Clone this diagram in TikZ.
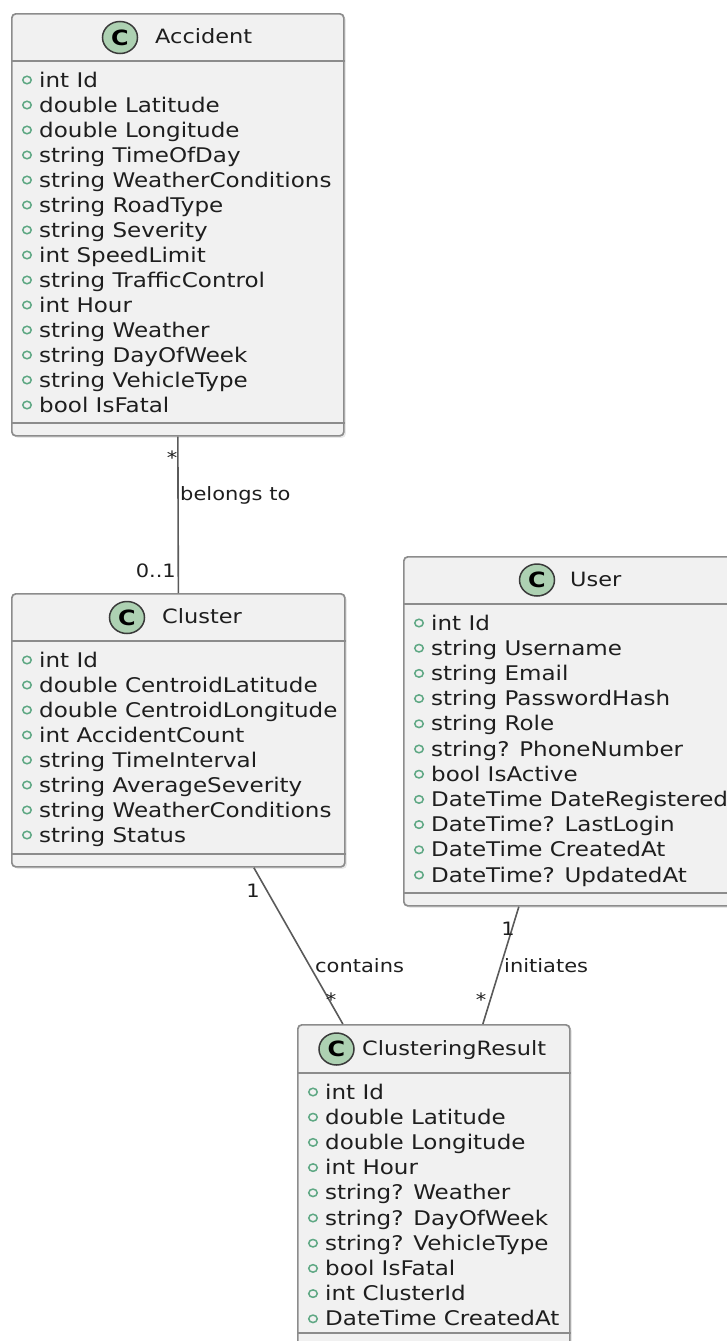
\documentclass[tikz,border=0pt]{standalone}
\usepackage{fontspec}
\setmainfont{DejaVu Sans}[FakeStretch=1.14]
\usetikzlibrary{shadows,shapes.geometric}

\definecolor{boxfill}{HTML}{F1F1F1}
\definecolor{boxline}{HTML}{8C8C8C}
\definecolor{badgefill}{HTML}{ADD1B2}
\definecolor{badgeline}{HTML}{3A3A3A}
\definecolor{pub}{HTML}{5FA884}
\definecolor{txt}{HTML}{1E1E1E}
\definecolor{linkc}{HTML}{5A5A5A}

\tikzset{
  classbox/.style={draw=boxline, fill=boxfill, line width=1.7pt, rounded corners=4pt,
    anchor=north west, inner sep=0pt,
    drop shadow={shadow xshift=2pt, shadow yshift=-2pt, opacity=0.18}},
  sepline/.style={draw=boxline, line width=1.7pt},
  badge/.style={ellipse, draw=badgeline, fill=badgefill, line width=1.5pt,
    minimum width=35pt, minimum height=32pt, inner sep=0pt,
    font=\fontsize{21}{21}\selectfont\bfseries},
  classname/.style={anchor=base west, font=\fontsize{19.7}{24}\selectfont, text=txt, inner sep=0pt},
  attr/.style={anchor=base west, font=\fontsize{20.2}{24}\selectfont, text=txt, inner sep=0pt},
  pubdot/.style={ellipse, draw=pub, line width=1.5pt, minimum width=8.5pt, minimum height=7.5pt,
    inner sep=0pt},
  assoc/.style={draw=linkc, line width=1.6pt},
  mult/.style={font=\fontsize{18.4}{22}\selectfont, text=txt, inner sep=0pt},
}

\begin{document}
\begin{tikzpicture}[x=1pt, y=-1pt]
\useasboundingbox (0,0) rectangle (727,1341);

% ---------- Accident ----------
\node[classbox, minimum width=332pt, minimum height=422pt] (acc) at (11,13) {};
\draw[sepline] (acc.west |- 0,61) -- (acc.east |- 0,61);
\draw[sepline] (acc.west |- 0,423) -- (acc.east |- 0,423);
\node[badge] (acc-c) at (120,37.5) {C};
\node[classname] (acc-t) at (155,43.5) {Accident};
\foreach [count=\i from 0] \t in {int Id, double Latitude, double Longitude, string TimeOfDay,
  string WeatherConditions, string RoadType, string Severity, int SpeedLimit,
  string TrafficControl, int Hour, string Weather, string DayOfWeek, string VehicleType,
  bool IsFatal} {
  \node[pubdot] (acc-d\i) at (27,{80+25*\i}) {};
  \node[attr] (acc-a\i) at (39,{87+25*\i}) {\t};
}

% ---------- Cluster ----------
\node[classbox, minimum width=333pt, minimum height=273pt] (clu) at (11,593) {};
\draw[sepline] (clu.west |- 0,641) -- (clu.east |- 0,641);
\draw[sepline] (clu.west |- 0,854) -- (clu.east |- 0,854);
\node[badge] (clu-c) at (127,617.5) {C};
\node[classname] (clu-t) at (162,623.5) {Cluster};
\foreach [count=\i from 0] \t in {int Id, double CentroidLatitude, double CentroidLongitude,
  int AccidentCount, string TimeInterval, string AverageSeverity, string WeatherConditions,
  string Status} {
  \node[pubdot] (clu-d\i) at (27,{660+25*\i}) {};
  \node[attr] (clu-a\i) at (39,{667+25*\i}) {\t};
}

% ---------- User ----------
\node[classbox, minimum width=340pt, minimum height=349pt] (usr) at (403,556) {};
\draw[sepline] (usr.west |- 0,604) -- (usr.east |- 0,604);
\draw[sepline] (usr.west |- 0,893) -- (usr.east |- 0,893);
\node[badge] (usr-c) at (537,580) {C};
\node[classname] (usr-t) at (570,586) {User};
\foreach [count=\i from 0] \t in {int Id, string Username, string Email, string PasswordHash,
  string Role, string? PhoneNumber, bool IsActive, DateTime DateRegistered,
  DateTime? LastLogin, DateTime CreatedAt, DateTime? UpdatedAt} {
  \node[pubdot] (usr-d\i) at (419,{623+25.2*\i}) {};
  \node[attr] (usr-a\i) at (431,{630+25.2*\i}) {\t};
}

% ---------- ClusteringResult ----------
\node[classbox, minimum width=272pt, minimum height=322pt] (cr) at (297,1024) {};
\draw[sepline] (cr.west |- 0,1073) -- (cr.east |- 0,1073);
\draw[sepline] (cr.west |- 0,1333) -- (cr.east |- 0,1333);
\node[badge] (cr-c) at (336.5,1049) {C};
\node[classname] (cr-t) at (362,1055) {ClusteringResult};
\foreach [count=\i from 0] \t in {int Id, double Latitude, double Longitude, int Hour,
  string? Weather, string? DayOfWeek, string? VehicleType, bool IsFatal, int ClusterId,
  DateTime CreatedAt} {
  \node[pubdot] (cr-d\i) at (313,{1092+25.2*\i}) {};
  \node[attr] (cr-a\i) at (325,{1099+25.2*\i}) {\t};
}

% ---------- Associations ----------
\draw[assoc] (acc.south) -- (clu.north);
\node[mult] (m1) at (172,458) {*};
\node[mult, anchor=west] (l1) at (180,495) {belongs to};
\node[mult, anchor=east] (m2) at (176,571) {0..1};

\draw[assoc] ([xshift=75.5pt]clu.south) -- ([xshift=-91pt]cr.north);
\node[mult] (m3) at (253,891) {1};
\node[mult, anchor=west] (l2) at (315,966) {contains};
\node[mult] (m4) at (331,1000) {*};

\draw[assoc] ([xshift=-55pt]usr.south) -- ([xshift=49pt]cr.north);
\node[mult] (m5) at (508,929) {1};
\node[mult, anchor=west] (l3) at (504,966) {initiates};
\node[mult] (m6) at (481,1000) {*};
\end{tikzpicture}
\end{document}
